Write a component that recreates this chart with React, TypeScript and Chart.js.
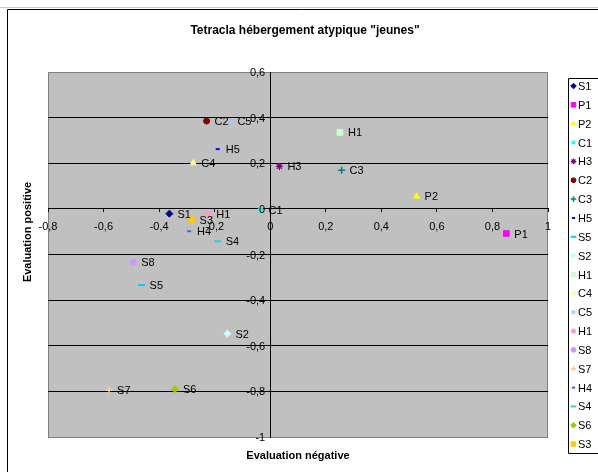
import React, { useEffect, useRef } from "react";
import { Chart, registerables } from "chart.js";
import { drawPoint } from "chart.js/helpers";

Chart.register(...registerables);

const chartTitle = 'Tetracla hébergement atypique "jeunes"';
const xAxisTitle = "Evaluation négative";
const yAxisTitle = "Evaluation positive";

const seriesNames = ["S1", "P1", "P2", "C1", "H3", "C2", "C3", "H5", "S5", "S2", "H1", "C4", "C5", "H1", "S8", "S7", "H4", "S4", "S6", "S3"];
const xValues = [-0.363, 0.85, 0.527, -0.035, 0.033, -0.229, 0.257, -0.189, -0.463, -0.154, 0.251, -0.277, -0.147, -0.223, -0.493, -0.58, -0.292, -0.189, -0.343, -0.283];
const yValues = [-0.021, -0.108, 0.055, -0.005, 0.186, 0.385, 0.169, 0.262, -0.334, -0.547, 0.335, 0.201, 0.385, -0.021, -0.234, -0.793, -0.098, -0.142, -0.79, -0.047];

const xTickMin = -0.8;
const xTickMax = 1;
const yTickMin = -1;
const yTickMax = 0.6;
const tickStep = 0.2;

const seriesColors = ["#000080", "#FF00FF", "#FFFF00", "#00FFFF", "#800080", "#800000", "#008080", "#0000FF", "#00CCFF", "#CCFFFF", "#CCFFCC", "#FFFF99", "#99CCFF", "#FF99CC", "#CC99FF", "#FFCC99", "#3366FF", "#33CCCC", "#99CC00", "#FFCC00"];

const markerCycle = [
  { style: "rectRot", radius: 3.5, width: 1 },
  { style: "rect", radius: 4, width: 1 },
  { style: "triangle", radius: 3.5, width: 1 },
  { style: "crossRot", radius: 3, width: 1.5 },
  { style: "star", radius: 3.5, width: 1.2 },
  { style: "circle", radius: 3, width: 1 },
  { style: "cross", radius: 3.5, width: 1.5 },
  { style: "line", radius: 2, width: 2 },
  { style: "line", radius: 3.5, width: 2 },
];

const FONT = "Arial, 'Liberation Sans', sans-serif";

const fmt = (v: number) => {
  const n = Number(v.toFixed(1));
  return (n === 0 ? "0" : String(n)).replace(".", ",");
};

const decorPlugin = {
  id: "decor",
  beforeDraw(chart: any) {
    const { ctx, chartArea: a, width, height } = chart;
    ctx.save();
    ctx.fillStyle = "#ffffff";
    ctx.fillRect(0, 0, width, height);
    ctx.strokeStyle = "#c8c8c8";
    ctx.lineWidth = 1;
    ctx.beginPath();
    ctx.moveTo(0, 7.5);
    ctx.lineTo(width, 7.5);
    ctx.stroke();
    ctx.strokeStyle = "#000";
    ctx.beginPath();
    ctx.moveTo(7.5, height);
    ctx.lineTo(7.5, 9.5);
    ctx.lineTo(width, 9.5);
    ctx.stroke();
    ctx.fillStyle = "#C0C0C0";
    ctx.fillRect(a.left, a.top, a.right - a.left, a.bottom - a.top);
    ctx.strokeStyle = "#808080";
    ctx.strokeRect(a.left + 0.5, a.top + 0.5, a.right - a.left - 1, a.bottom - a.top);
    ctx.restore();
  },
  afterDraw(chart: any) {
    const { ctx } = chart;
    ctx.save();
    ctx.fillStyle = "#000";
    ctx.textAlign = "center";
    ctx.textBaseline = "middle";
    ctx.font = `bold 12px ${FONT}`;
    ctx.fillText(chartTitle, 305, 31);
    ctx.font = `bold 11px ${FONT}`;
    ctx.fillText(xAxisTitle, 298, 456);
    ctx.save();
    ctx.translate(28, 232);
    ctx.rotate(-Math.PI / 2);
    ctx.fillText(yAxisTitle, 0, 0);
    ctx.restore();

    // y tick labels, placed from the y scale's own ticks
    const ys = chart.scales.y;
    const xs = chart.scales.x;
    const axisX = xs.getPixelForValue(0);
    ctx.font = `11px ${FONT}`;
    ctx.textAlign = "right";
    ctx.textBaseline = "middle";
    ys.ticks.forEach((t: any) => {
      ctx.fillText(fmt(t.value), axisX - 5, ys.getPixelForValue(t.value) + 1);
    });

    // data labels
    ctx.textAlign = "left";
    chart.data.datasets.forEach((ds: any, i: number) => {
      const meta = chart.getDatasetMeta(i);
      meta.data.forEach((pt: any) => {
        ctx.fillText(ds.label, pt.x + 8, pt.y + 1);
      });
    });

    // legend
    const lx = 568.5;
    const ly = 78.5;
    const lb = 453.5;
    ctx.fillStyle = "#ffffff";
    ctx.fillRect(lx, ly, 40, lb - ly);
    ctx.strokeStyle = "#000";
    ctx.lineWidth = 1;
    ctx.beginPath();
    ctx.moveTo(chart.width + 2, ly);
    ctx.lineTo(lx, ly);
    ctx.lineTo(lx, lb);
    ctx.lineTo(chart.width + 2, lb);
    ctx.stroke();
    chart.data.datasets.forEach((ds: any, i: number) => {
      const y = 86 + i * 18.85;
      ctx.fillStyle = ds.backgroundColor;
      ctx.strokeStyle = ds.borderColor;
      ctx.lineWidth = ds.borderWidth;
      drawPoint(ctx, { pointStyle: ds.pointStyle, radius: ds.pointRadius * 0.8, borderWidth: ds.borderWidth, rotation: 0 }, 573.5, y);
      ctx.fillStyle = "#000";
      ctx.font = `11px ${FONT}`;
      ctx.textAlign = "left";
      ctx.textBaseline = "middle";
      ctx.fillText(ds.label, 578, y + 1);
    });
    ctx.restore();
  },
};

export default function App() {
  const ref = useRef<HTMLCanvasElement>(null);
  useEffect(() => {
    if (!ref.current) return;
    const datasets = seriesNames.map((name, i) => {
      const m = markerCycle[i % markerCycle.length];
      return {
        label: name,
        data: [{ x: xValues[i], y: yValues[i] }],
        pointStyle: m.style,
        pointRadius: m.radius,
        pointHoverRadius: m.radius,
        borderWidth: m.width,
        backgroundColor: seriesColors[i],
        borderColor: seriesColors[i],
        showLine: false,
      };
    });
    const chart = new Chart(ref.current, {
      type: "scatter",
      data: { datasets },
      options: {
        animation: false,
        responsive: false,
        devicePixelRatio: 1,
        layout: { padding: { left: 48, top: 72, right: 50, bottom: 35 } },
        plugins: { legend: { display: false }, title: { display: false }, tooltip: { enabled: false } },
        scales: {
          x: {
            type: "linear",
            position: { y: 0 },
            min: xTickMin,
            max: xTickMax,
            grid: { drawOnChartArea: false, drawTicks: true, tickLength: 3, color: "#000" },
            border: { display: true, color: "#000", width: 1 },
            ticks: {
              stepSize: tickStep,
              autoSkip: false,
              maxRotation: 0,
              padding: 8,
              color: "#000",
              font: { family: FONT, size: 11 },
              callback: (v: any) => fmt(Number(v)),
            },
          },
          y: {
            type: "linear",
            position: { x: 0 },
            min: yTickMin,
            max: yTickMax,
            grid: {
              drawOnChartArea: true,
              drawTicks: true,
              tickLength: 3,
              color: (c: any) => (c.tick && (Math.abs(c.tick.value - yTickMax) < 1e-6 || Math.abs(c.tick.value - yTickMin) < 1e-6) ? "#808080" : "#000"),
            },
            border: { display: true, color: "#000", width: 1 },
            ticks: {
              display: false,
              stepSize: tickStep,
              autoSkip: false,
              callback: (v: any) => fmt(Number(v)),
            },
          },
        },
      },
      plugins: [decorPlugin],
    } as any);
    return () => chart.destroy();
  }, []);
  return (
    <div style={{ position: "absolute", left: 0, top: 0, width: 598, height: 472 }}>
      <canvas ref={ref} width={598} height={472} style={{ display: "block" }} />
    </div>
  );
}
